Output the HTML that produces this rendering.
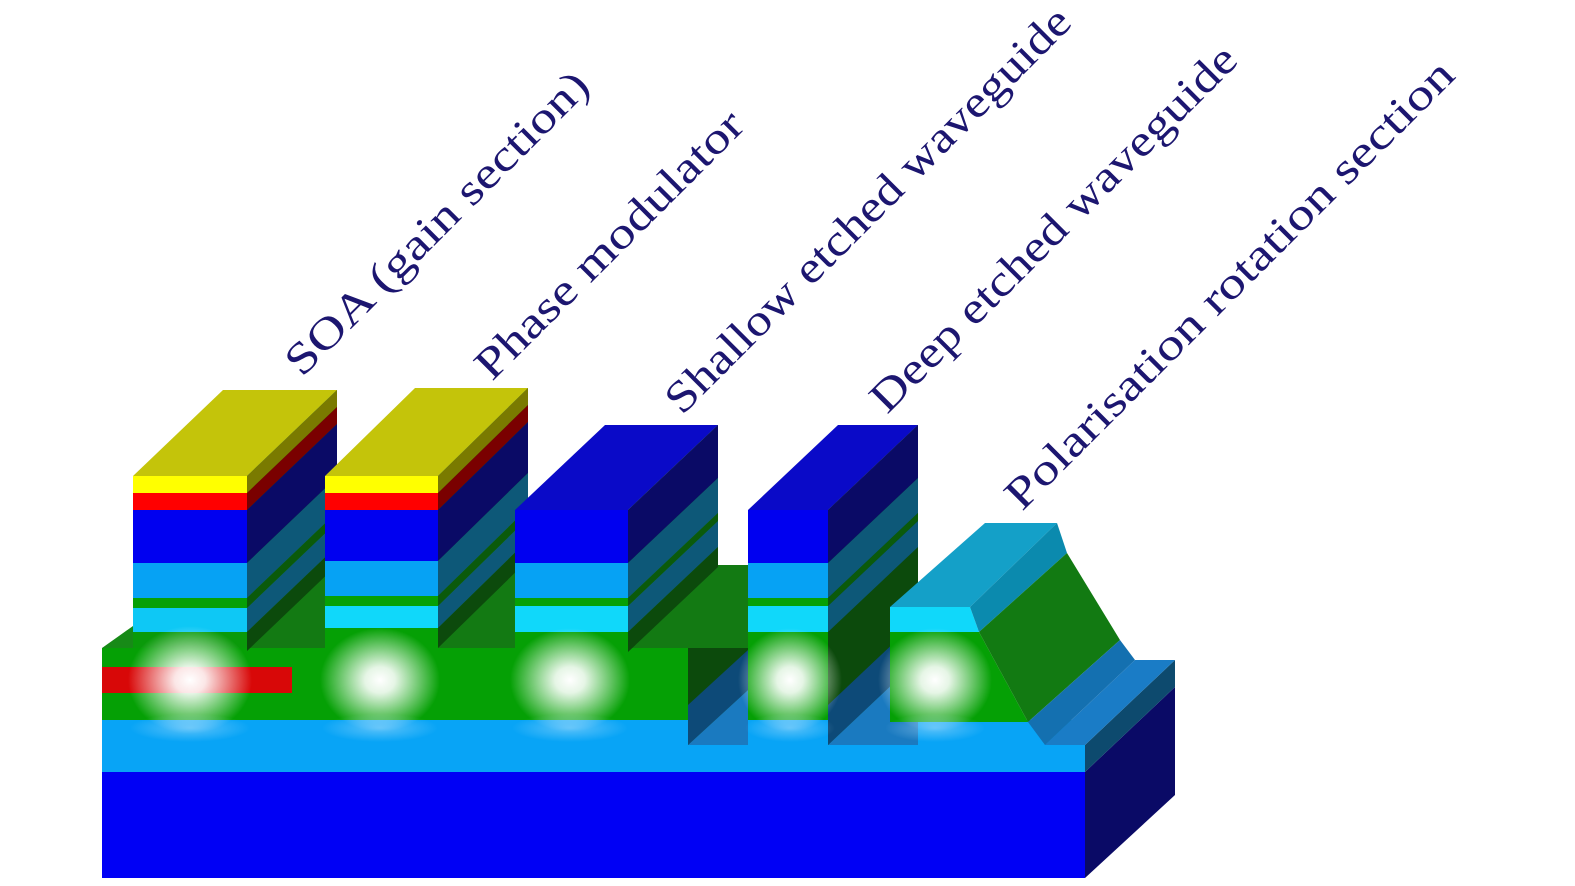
<!DOCTYPE html>
<html><head><meta charset="utf-8"><style>
html,body{margin:0;padding:0;background:#fff;}
svg{display:block;}
text{font-family:"Liberation Serif",serif;fill:#1c1670;font-size:44px;}
</style></head><body>
<svg width="1575" height="886" viewBox="0 0 1575 886" xmlns="http://www.w3.org/2000/svg">
<defs>
<radialGradient id="g">
<stop offset="0" stop-color="#fff" stop-opacity="1"/>
<stop offset="0.25" stop-color="#fff" stop-opacity="0.9"/>
<stop offset="1" stop-color="#fff" stop-opacity="0"/>
</radialGradient>
<radialGradient id="g2">
<stop offset="0" stop-color="#bfe6ff" stop-opacity="0.45"/>
<stop offset="1" stop-color="#bfe6ff" stop-opacity="0"/>
</radialGradient>
</defs>

<!-- substrate -->
<rect x="102" y="772" width="983" height="106" fill="#0000f5"/>
<polygon points="1085,772 1175,687 1175,795 1085,878" fill="#0a0a66"/>
<polygon points="1085,745 1175,660 1175,687 1085,772" fill="#0d4a6e"/>
<!-- light blue lower cladding -->
<rect x="102" y="720" width="983" height="52" fill="#08a4f6"/>
<polygon points="1045,745 1135,660 1175,660 1085,745" fill="#1a7cc6"/>

<!-- slab -->
<polygon points="102,648 133,626 700,626 688,648" fill="#178a17"/>
<rect x="102" y="648" width="586" height="72" fill="#05a005"/>
<rect x="102" y="667" width="190" height="26" fill="#d80808"/>
<polygon points="688,648 748,565 748,745 688,745" fill="#0c4a0c"/>
<polygon points="688,705 748,650 748,690 688,745" fill="#0d4a78"/>
<polygon points="688,745 748,690 748,745" fill="#1a7ac0"/>
<polygon points="718,565 748,565 748,648 688,648" fill="#137a13"/>

<!-- SOA block -->
<polygon points="133,476 247,476 337,390 223,390" fill="#c4c40a"/>
<rect x="133" y="476" width="114" height="17" fill="#ffff00"/>
<rect x="133" y="493" width="114" height="17" fill="#ff0000"/>
<rect x="133" y="510" width="114" height="53" fill="#0000f0"/>
<rect x="133" y="563" width="114" height="35" fill="#06a2f4"/>
<rect x="133" y="598" width="114" height="10" fill="#06a006"/>
<rect x="133" y="608" width="114" height="24" fill="#0ec8f5"/>
<rect x="133" y="632" width="114" height="16" fill="#0a9a0a"/>
<g>
<polygon points="247,476 337,390 337,648 247,648" fill="#137a13"/>
<polygon points="247,476 337,390 337,407 247,493" fill="#7a7a00"/>
<polygon points="247,493 337,407 337,424 247,510" fill="#7a0000"/>
<polygon points="247,510 337,424 337,477 247,563" fill="#0a0a66"/>
<polygon points="247,563 337,477 337,512 247,598" fill="#0d5878"/>
<polygon points="247,598 337,512 337,522 247,608" fill="#0b5a0b"/>
<polygon points="247,608 337,522 337,546 247,632" fill="#0d5878"/>
<polygon points="247,632 337,546 337,565 247,651" fill="#0c4a0c"/>
</g>

<!-- Phase modulator block -->
<polygon points="325,476 438,476 528,388 415,388" fill="#c4c40a"/>
<rect x="325" y="476" width="113" height="17" fill="#ffff00"/>
<rect x="325" y="493" width="113" height="17" fill="#ff0000"/>
<rect x="325" y="510" width="113" height="51" fill="#0000f0"/>
<rect x="325" y="561" width="113" height="35" fill="#06a2f4"/>
<rect x="325" y="596" width="113" height="10" fill="#06a006"/>
<rect x="325" y="606" width="113" height="22" fill="#10d8fa"/>
<rect x="325" y="628" width="113" height="20" fill="#05a005"/>
<g>
<polygon points="438,476 528,388 528,648 438,648" fill="#137a13"/>
<polygon points="438,476 528,388 528,405 438,493" fill="#7a7a00"/>
<polygon points="438,493 528,405 528,422 438,510" fill="#7a0000"/>
<polygon points="438,510 528,422 528,473 438,561" fill="#0a0a66"/>
<polygon points="438,561 528,473 528,508 438,596" fill="#0d5878"/>
<polygon points="438,596 528,508 528,518 438,606" fill="#0b5a0b"/>
<polygon points="438,606 528,518 528,540 438,628" fill="#0d5878"/>
<polygon points="438,628 528,540 528,560 438,648" fill="#0c4a0c"/>
</g>

<!-- Shallow block -->
<polygon points="515,510 628,510 718,425 605,425" fill="#0a0ac8"/>
<rect x="515" y="510" width="113" height="53" fill="#0000f0"/>
<rect x="515" y="563" width="113" height="35" fill="#06a2f4"/>
<rect x="515" y="598" width="113" height="8" fill="#06a006"/>
<rect x="515" y="606" width="113" height="26" fill="#10d8fa"/>
<rect x="515" y="632" width="113" height="16" fill="#05a005"/>
<g>
<polygon points="628,510 718,425 718,648 628,648" fill="#137a13"/>
<polygon points="628,510 718,425 718,478 628,563" fill="#0a0a66"/>
<polygon points="628,563 718,478 718,513 628,598" fill="#0d5878"/>
<polygon points="628,598 718,513 718,521 628,606" fill="#0b5a0b"/>
<polygon points="628,606 718,521 718,547 628,632" fill="#0d5878"/>
<polygon points="628,632 718,547 718,567 628,652" fill="#0c4a0c"/>
</g>

<!-- Deep block -->
<polygon points="748,510 828,510 918,425 838,425" fill="#0a0ac8"/>
<rect x="748" y="510" width="80" height="53" fill="#0000f0"/>
<rect x="748" y="563" width="80" height="35" fill="#06a2f4"/>
<rect x="748" y="598" width="80" height="8" fill="#06a006"/>
<rect x="748" y="606" width="80" height="26" fill="#10d8fa"/>
<rect x="748" y="632" width="80" height="88" fill="#05a005"/>
<g>
<polygon points="828,510 918,425 918,745 828,745" fill="#0c4a0c"/>
<polygon points="828,510 918,425 918,478 828,563" fill="#0a0a66"/>
<polygon points="828,563 918,478 918,513 828,598" fill="#0d5878"/>
<polygon points="828,598 918,513 918,521 828,606" fill="#0b5a0b"/>
<polygon points="828,606 918,521 918,547 828,632" fill="#0d5878"/>
<polygon points="828,705 918,620 918,660 828,745" fill="#0d4a78"/>
<polygon points="828,745 918,660 918,745" fill="#1a7ac0"/>
</g>

<!-- Polarisation rotation section -->
<polygon points="890,607 970,607 1057,523 985,523" fill="#14a0c8"/>
<polygon points="890,607 970,607 979,632 890,632" fill="#10d8fa"/>
<polygon points="890,632 979,632 1028,722 890,722" fill="#05a005"/>
<polygon points="970,607 1057,523 1067,553 979,632" fill="#0b8aae"/>
<polygon points="979,632 1067,553 1120,640 1028,722" fill="#127a12"/>
<polygon points="1028,722 1120,640 1135,660 1045,745" fill="#1470b0"/>

<!-- glows -->
<ellipse cx="190" cy="680" rx="62" ry="54" fill="url(#g)"/>
<ellipse cx="380" cy="680" rx="60" ry="52" fill="url(#g)"/>
<ellipse cx="570" cy="680" rx="60" ry="52" fill="url(#g)"/>
<ellipse cx="790" cy="680" rx="52" ry="52" fill="url(#g)"/>
<ellipse cx="935" cy="680" rx="57" ry="52" fill="url(#g)"/>
<ellipse cx="190" cy="728" rx="60" ry="14" fill="url(#g2)"/>
<ellipse cx="380" cy="728" rx="58" ry="14" fill="url(#g2)"/>
<ellipse cx="570" cy="728" rx="58" ry="14" fill="url(#g2)"/>
<ellipse cx="790" cy="728" rx="45" ry="14" fill="url(#g2)"/>
<ellipse cx="935" cy="728" rx="50" ry="14" fill="url(#g2)"/>

<!-- labels -->
<text transform="translate(302,378) rotate(-45)" textLength="410" lengthAdjust="spacingAndGlyphs">SOA (gain section)</text>
<text transform="translate(492,382) rotate(-45)" textLength="360" lengthAdjust="spacingAndGlyphs">Phase modulator</text>
<text transform="translate(682,416) rotate(-45)" textLength="554" lengthAdjust="spacingAndGlyphs">Shallow etched waveguide</text>
<text transform="translate(887,415) rotate(-45)" textLength="499" lengthAdjust="spacingAndGlyphs">Deep etched waveguide</text>
<text transform="translate(1022,512) rotate(-45)" textLength="615" lengthAdjust="spacingAndGlyphs">Polarisation rotation section</text>
</svg>
</body></html>
